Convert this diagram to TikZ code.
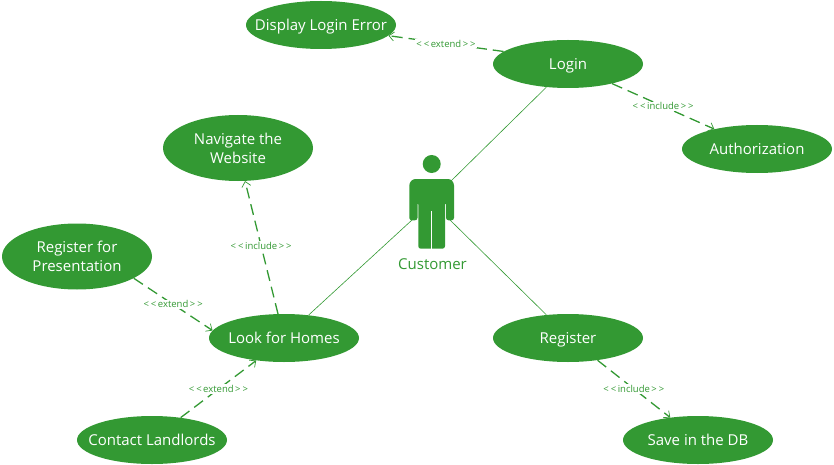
\documentclass[tikz,border=0pt]{standalone}
\usepackage{fontspec}
\setmainfont{Open Sans}
\usetikzlibrary{shapes.geometric,arrows.meta}
\definecolor{ucgreen}{HTML}{339933}
\tikzset{
  usecase/.style={ellipse,fill=ucgreen,draw=none,inner sep=0pt,minimum width=150pt,minimum height=48pt,text=white,align=center,font=\fontsize{15}{19}\selectfont},
  onecase/.style={usecase,text height=10.5pt,text depth=0pt},
  tallcase/.style={usecase,minimum height=66pt},
  assoc/.style={ucgreen,line width=0.6pt},
  depend/.style={ucgreen,line width=1.3pt,dash pattern=on 11pt off 6pt,-{Straight Barb[length=5pt,width=9pt,line width=0.7pt]}},
  deplabel/.style={fill=white,inner sep=1pt,text=ucgreen,font=\fontsize{9.5}{11}\selectfont}
}
\newcommand{\stereo}[1]{<\kern2pt<\kern1.5pt#1\kern1.5pt>\kern2pt>}
\newcommand{\oneline}[1]{\makebox[0pt]{#1}}
\begin{document}
\begin{tikzpicture}[x=1pt,y=-1pt]
\useasboundingbox (0,0) rectangle (834,465);
\node[onecase] (error) at (321,25) {\oneline{Display Login Error}};
\node[onecase] (login) at (568,64) {\oneline{Login}};
\node[onecase] (auth) at (757,149) {\oneline{Authorization}};
\node[tallcase] (nav) at (238,148) {\oneline{Navigate the}\\\oneline{Website}};
\node[tallcase] (pres) at (77,256.5) {\oneline{Register for}\\\oneline{Presentation}};
\node[onecase] (homes) at (284,338) {\oneline{Look for Homes}};
\node[onecase] (contact) at (152,440) {\oneline{Contact Landlords}};
\node[onecase] (register) at (568,338) {\oneline{Register}};
\node[onecase] (db) at (698,440) {\oneline{Save in the DB}};
% actor
\fill[ucgreen] (431.7,164) circle (9);
\fill[ucgreen,rounded corners=2.5pt] (409.3,220.3) -- (409.3,183) -- (413,179) -- (450.5,179) -- (454,183) -- (454,220.3) -- (446,220.3) -- (446,202) -- (445,202) -- (445,248.7) -- (418.3,248.7) -- (418.3,202) -- (417.5,202) -- (417.5,220.3) -- cycle;
\draw[white,line width=0.7pt] (431.7,211) -- (431.7,249);
\node[inner sep=0pt,text=ucgreen,font=\fontsize{15}{17}\selectfont] (customer) at (432.5,264) {Customer};
\coordinate (actorNE) at (451,181);
\coordinate (actorSW) at (412,220);
\coordinate (actorSE) at (450,220);
% associations
\draw[assoc] (login.-133.7) -- (actorNE);
\draw[assoc] (homes.43) -- (actorSW);
\draw[assoc] (register.133.7) -- (actorSE);
% dependencies
\draw[depend] (login.169.5) -- node[deplabel] {\stereo{extend}} (error.-9.3);
\draw[depend] (login.-24.4) -- node[deplabel] {\stereo{include}} (auth.155);
\draw[depend] (homes.104.6) -- node[deplabel,pos=0.51] {\stereo{include}} (nav.-78);
\draw[depend] (pres.-21.4) -- node[deplabel] {\stereo{extend}} (homes.174.4);
\draw[depend] (contact.38.4) -- node[deplabel] {\stereo{extend}} (homes.219.4);
\draw[depend] (register.-37.2) -- node[deplabel] {\stereo{include}} (db.141.8);
\end{tikzpicture}
\end{document}
